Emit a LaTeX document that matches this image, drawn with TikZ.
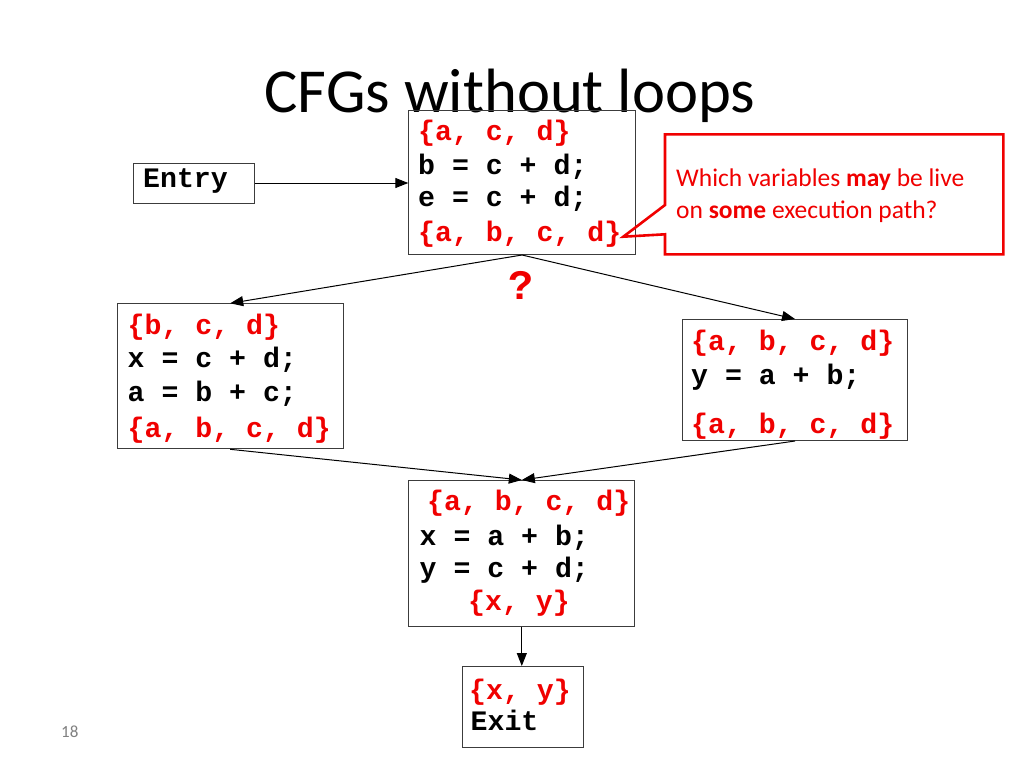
\documentclass[tikz,border=0pt]{standalone}
\usepackage{fontspec}
\setmainfont{Carlito}
\newfontfamily\codefont{Liberation Mono}
\usetikzlibrary{arrows.meta}
\definecolor{setred}{RGB}{240,0,0}
\definecolor{boxline}{RGB}{60,60,60}
\tikzset{
  x=1pt, y=-1pt,
  box/.style={draw=boxline, line width=1pt, inner sep=0pt, anchor=north west},
  code/.style={font=\codefont\bfseries\fontsize{28.2}{30}\selectfont, inner sep=0pt, anchor=base west, text=black},
  setl/.style={code, text=setred},
  arr/.style={draw=black, line width=1pt, -{Triangle[length=13pt,width=10pt]}},
  callout/.style={draw=setred, line width=2.6pt, line join=miter},
  calltext/.style={font=\fontsize{25.5}{30}\selectfont, text=setred, inner sep=0pt, anchor=base west}
}
\begin{document}
\begin{tikzpicture}
\useasboundingbox (0,0) rectangle (1024,768);
\fill[white] (0,0) rectangle (1024,768);

% title
\node[anchor=base, inner sep=0pt, font=\fontsize{62.6}{70}\selectfont] (title) at (510,112) {CFGs without loops};

% boxes
\node[box, minimum width=121pt, minimum height=40pt] (entry) at (133,162.5) {};
\node[box, minimum width=226.5pt, minimum height=144pt] (top) at (408.3,110) {};
\node[box, minimum width=226pt, minimum height=145pt] (left) at (116.7,303.3) {};
\node[box, minimum width=225.6pt, minimum height=121pt] (right) at (681.7,319) {};
\node[box, minimum width=226pt, minimum height=145.7pt] (bot) at (408.3,480) {};
\node[box, minimum width=121pt, minimum height=80.7pt] (exit) at (461.7,666) {};

% entry text
\node[code] (entryT) at (143,187.5) {Entry};

% top block
\node[setl] (t1) at (418,140.7) {\{a, c, d\}};
\node[code] (t2) at (418,174) {b = c + d;};
\node[code] (t3) at (418,206.7) {e = c + d;};
\node[setl] (t4) at (418,241.7) {\{a, b, c, d\}};

% left block
\node[setl] (l1) at (127.5,334.3) {\{b, c, d\}};
\node[code] (l2) at (127.5,367.7) {x = c + d;};
\node[code] (l3) at (127.5,401) {a = b + c;};
\node[setl] (l4) at (127.5,437.3) {\{a, b, c, d\}};

% right block
\node[setl] (r1) at (691,350) {\{a, b, c, d\}};
\node[code] (r2) at (691,384.3) {y = a + b;};
\node[setl] (r3) at (691,433.3) {\{a, b, c, d\}};

% bottom block
\node[setl] (b1) at (427,510.7) {\{a, b, c, d\}};
\node[code] (b2) at (419.5,545) {x = a + b;};
\node[code] (b3) at (419.5,577.7) {y = c + d;};
\node[setl] (b4) at (468,610.7) {\{x, y\}};

% exit block
\node[setl] (e1) at (469,699.3) {\{x, y\}};
\node[code] (e2) at (470.5,730) {Exit};

% question mark
\node[inner sep=0pt, anchor=base, text=setred, font=\codefont\bfseries\fontsize{42}{44}\selectfont] (q) at (521,299) {?};

% connectors
\draw[arr] (entry.east) -- (top.west |- entry.east);
\draw[arr] (top.south) -- (left.north);
\draw[arr] (top.south) -- (right.north);
\draw[arr] (left.south) -- (bot.north);
\draw[arr] (right.south) -- (bot.north);
\draw[arr] (bot.south) -- (bot.south |- exit.north);

% callout
\coordinate (tip) at (623.3,236.7);
\draw[callout] (665,134.3) -- (1003.3,134.3) -- (1003.3,254.3) -- (665,254.3) -- (665,234.3) -- (tip) -- (665,205) -- cycle;
\node[calltext] (c1) at (676,186.7) {Which variables \textbf{may} be live};
\node[calltext] (c2) at (676,218.3) {on \textbf{some} execution path?};

% page number
\node[inner sep=0pt, anchor=base west, text=black!50, font=\fontsize{17}{20}\selectfont] (pg) at (61,737.7) {18};
\end{tikzpicture}
\end{document}
